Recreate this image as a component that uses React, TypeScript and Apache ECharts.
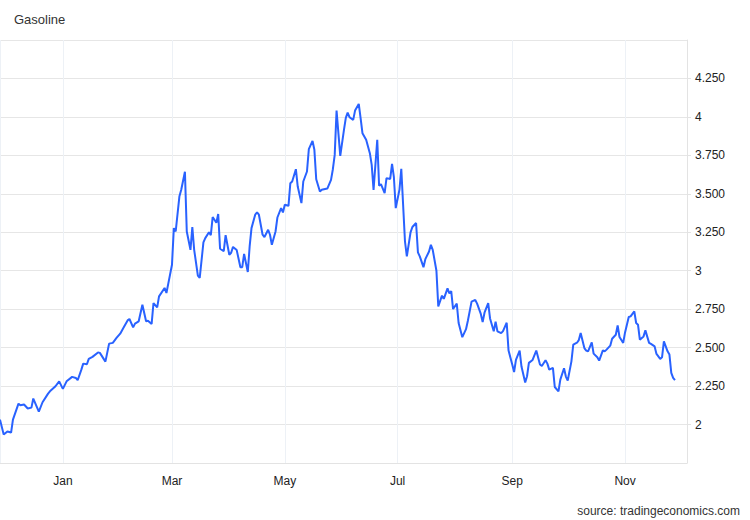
import React, { useEffect, useRef } from "react";
import * as echarts from "echarts";

// Days offset from 2022-01-01 for each observation
const dayOffsets: number[] = [
  -34, -32, -30, -28, -27, -24, -23, -21, -19, -17, -16, -13, -11, -8, -7, -4, -2, 0,
  2, 5, 7, 8, 10, 11, 13, 14, 16, 19, 20, 23, 25, 27, 29, 31, 33, 35, 36, 38, 39, 41,
  43, 45, 46, 48, 49, 51, 52, 55, 56, 57, 59, 60, 61, 63, 64, 66, 67, 69, 70, 71,
  73, 74, 76, 77, 79, 80, 81, 83, 84, 85, 87, 88, 90, 91, 92, 94, 96, 97, 98, 100,
  101, 102, 104, 105, 106, 108, 109, 111, 112, 113, 115, 116, 118, 119, 120, 122, 123, 124, 126, 127,
  129, 130, 132, 133, 135, 136, 137, 139, 140, 143, 145, 146, 147, 148, 150, 152, 153, 154, 155, 157,
  158, 160, 161, 162, 164, 166, 167, 168, 170, 171, 172, 174, 175, 177, 178, 179, 180, 182, 183, 185,
  186, 188, 189, 191, 192, 193, 195, 196, 198, 199, 200, 202, 203, 205, 206, 208, 209, 210, 211, 213,
  214, 216, 218, 219, 221, 223, 224, 226, 227, 228, 230, 231, 233, 234, 235, 237, 238, 240, 241, 243,
  244, 245, 247, 248, 250, 251, 252, 254, 256, 258, 259, 261, 262, 263, 265, 266, 268, 269, 271, 272,
  273, 275, 276, 278, 279, 280, 282, 283, 284, 286, 287, 289, 290, 292, 293, 294, 296, 297, 299, 300,
  301, 303, 304, 306, 307, 309, 310, 311, 312, 314, 315, 317, 318, 320, 321, 323, 324, 325, 327, 328,
  329, 330, 331,
];

// Gasoline price (USD/gal)
const prices: number[] = [
  2.032, 1.935, 1.955, 1.948, 2.032, 2.136, 2.125, 2.13, 2.104, 2.11, 2.169, 2.084, 2.145, 2.201, 2.216, 2.249, 2.281, 2.232,
  2.281, 2.31, 2.303, 2.288, 2.357, 2.396, 2.392, 2.427, 2.44, 2.469, 2.466, 2.409, 2.526, 2.531, 2.563, 2.591, 2.634, 2.677, 2.686, 2.632, 2.656, 2.671,
  2.779, 2.671, 2.675, 2.654, 2.79, 2.762, 2.833, 2.888, 2.855, 2.916, 3.039, 3.277, 3.255, 3.482, 3.526, 3.643, 3.255, 3.136, 3.284, 3.136,
  2.968, 2.953, 3.184, 3.212, 3.25, 3.231, 3.349, 3.312, 3.369, 3.143, 3.127, 3.231, 3.104, 3.117, 3.155, 3.134, 3.023, 3.023, 3.109, 2.992,
  3.158, 3.277, 3.364, 3.379, 3.364, 3.234, 3.219, 3.266, 3.234, 3.169, 3.255, 3.346, 3.407, 3.379, 3.429, 3.422, 3.569, 3.58, 3.66, 3.547,
  3.44, 3.58, 3.645, 3.79, 3.844, 3.786, 3.595, 3.515, 3.526, 3.534, 3.591, 3.66, 3.753, 4.041, 3.747, 3.916, 3.994, 4.028, 3.998, 3.981,
  4.041, 4.084, 3.992, 3.894, 3.851, 3.764, 3.688, 3.526, 3.851, 3.552, 3.563, 3.505, 3.602, 3.597, 3.695, 3.608, 3.407, 3.526, 3.662, 3.19,
  3.093, 3.249, 3.284, 3.31, 3.119, 3.093, 3.023, 3.075, 3.125, 3.169, 3.136, 3.0, 2.768, 2.838, 2.817, 2.885, 2.852, 2.868, 2.751, 2.786,
  2.66, 2.568, 2.62, 2.675, 2.799, 2.81, 2.786, 2.719, 2.666, 2.727, 2.79, 2.69, 2.606, 2.669, 2.606, 2.594, 2.607, 2.662, 2.481, 2.39,
  2.341, 2.42, 2.481, 2.377, 2.273, 2.314, 2.401, 2.42, 2.481, 2.39, 2.381, 2.418, 2.396, 2.357, 2.368, 2.244, 2.216, 2.292, 2.366, 2.312,
  2.286, 2.411, 2.519, 2.532, 2.549, 2.595, 2.497, 2.481, 2.476, 2.534, 2.461, 2.438, 2.416, 2.482, 2.476, 2.487, 2.513, 2.558, 2.584, 2.645,
  2.569, 2.531, 2.599, 2.699, 2.703, 2.736, 2.66, 2.649, 2.552, 2.573, 2.612, 2.531, 2.524, 2.508, 2.459, 2.427, 2.437, 2.541, 2.476, 2.455,
  2.336, 2.303, 2.288,
];

const monthNames = ["Jan", "Feb", "Mar", "Apr", "May", "Jun", "Jul", "Aug", "Sep", "Oct", "Nov", "Dec"];
const yTicks = { min: 1.75, max: 4.5, interval: 0.25 };
const titleText = "Gasoline";
const sourceText = "source: tradingeconomics.com";

const FONT = "'Liberation Sans', Arial, Helvetica, sans-serif";

export default function App() {
  const ref = useRef<HTMLDivElement>(null);
  useEffect(() => {
    document.body.style.margin = "0";
    if (!ref.current) return;
    const chart = echarts.init(ref.current, undefined, { renderer: "svg" });
    const data = dayOffsets.map((d, i) => [new Date(2022, 0, 1 + d).getTime(), prices[i]]);
    const DAY = 86400000;
    chart.setOption({
      animation: false,
      backgroundColor: "#ffffff",
      textStyle: { fontFamily: FONT },
      grid: { left: 0, right: 63, top: 40, bottom: 57, containLabel: false },
      xAxis: {
        type: "time",
        min: new Date(2021, 10, 28).getTime(),
        max: new Date(2022, 11, 4, 12).getTime(),
        minInterval: 75 * DAY,
        maxInterval: 75 * DAY,
        axisLine: { show: true, lineStyle: { color: "#e3e3e3", width: 1 } },
        axisTick: { show: false },
        splitLine: { show: true, lineStyle: { color: "#edf1f6", width: 1 } },
        minorSplitLine: { show: false },
        axisLabel: {
          color: "#222",
          fontSize: 12,
          fontFamily: FONT,
          margin: 12,
          hideOverlap: false,
          formatter: (v: number) => monthNames[new Date(v).getMonth()],
        },
      },
      yAxis: {
        type: "value",
        position: "right",
        min: yTicks.min,
        max: yTicks.max,
        interval: yTicks.interval,
        axisLine: { show: true, lineStyle: { color: "#e3e3e3", width: 1 } },
        axisTick: { show: true, length: 4, lineStyle: { color: "#e3e3e3" } },
        splitLine: { show: true, lineStyle: { color: "#e6e6e6", width: 1 } },
        axisLabel: {
          color: "#222",
          fontSize: 12,
          fontFamily: FONT,
          margin: 8,
          showMinLabel: false,
          showMaxLabel: false,
          formatter: (v: number) => (Number.isInteger(v) ? String(v) : v.toFixed(3)),
        },
      },
      graphic: [
        {
          type: "text",
          left: 14,
          top: 13,
          style: { text: titleText, fill: "#333", font: `13px ${FONT}` },
        },
        {
          type: "text",
          right: 10,
          top: 505,
          style: { text: sourceText, fill: "#333", font: `12px ${FONT}` },
        },
      ],
      series: [
        {
          type: "line",
          data,
          showSymbol: false,
          symbol: "none",
          lineStyle: { color: "#2962ff", width: 2 },
          itemStyle: { color: "#2962ff" },
        },
      ],
    });
    return () => chart.dispose();
  }, []);
  return <div ref={ref} style={{ width: 750, height: 520 }} />;
}
